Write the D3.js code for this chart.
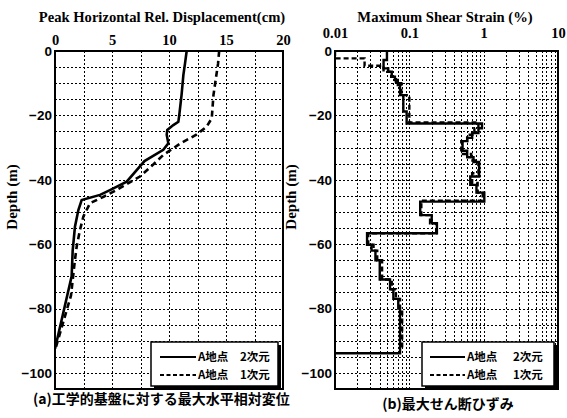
<!doctype HTML>
<html lang="ja">
<head>
<meta charset="utf-8">
<title>最大水平相対変位・最大せん断ひずみ</title>
<script src="https://d3js.org/d3.v7.min.js"></script>
<style type="text/css">
  body { margin: 0; background: #fff; }
  .tick text { fill: #000; }
  .grid line { shape-rendering: crispEdges; }
  .title { font-family: "Liberation Serif", serif; font-weight: bold; font-size: 14.6px; }
  .ylab { font-family: "Liberation Serif", serif; font-weight: bold; font-size: 15px; }
  .xtick text { font-family: "Liberation Serif", serif; font-weight: bold; font-size: 14.5px; }
  .ytick text { font-family: "Liberation Sans", sans-serif; font-weight: bold; font-size: 13.5px; }
  .cap { font-family: "Noto Sans CJK JP", sans-serif; font-weight: bold; font-size: 14px; }
  .leg { font-family: "Noto Sans CJK JP", sans-serif; font-weight: bold; font-size: 11.5px; }
</style>
</head>
<body>
<script type="text/javascript">

// ---- data ----
// (a) peak horizontal relative displacement (cm) vs depth (m)
var disp2D  = [11.55, 11.4, 11.26, 11.1, 10.9, 10.82, 10.38, 9.85, 9.8, 9.94, 9.5, 7.85, 6.29, 4.82, 3.95, 2.34, 2.05, 1.75, 1.55, 1.46, 0];
var depth2D = [0, -4, -7.5, -13.7, -19.9, -22, -23, -24.5, -26, -28.7, -30.7, -34.2, -40.6, -43.2, -44.7, -46.3, -49.4, -54.6, -62, -70, -92.5];

var disp1D  = [14.4, 14.3, 14.2, 13.9, 13.75, 13.3, 12.4, 11.0, 9.5, 8.4, 7.45, 5.4, 4.3, 3.07, 2.49, 2.19, 1.9, 1.75, 1.4, 0];
var depth1D = [0, -4, -6.4, -13.7, -20.9, -23.5, -26, -28.7, -32.3, -36, -39, -43.2, -45.2, -47.3, -51.4, -55.6, -60.8, -64.9, -76, -93];

// (b) maximum shear strain (%) per layer; bounds are layer tops/bottoms (m)
var strainBounds2D = [0, -2.8, -5.4, -6.4, -8.0, -9.0, -10.6, -13.7, -18.8, -22.5, -24, -25.5, -27, -28, -31, -33,
                      -34.5, -39, -41.6, -44, -46.8, -51, -53.5, -56.6, -60.2, -62, -65, -71, -74, -77, -80, -93.9];
var strain2D = [0.050, 0.045, 0.052, 0.058, 0.064, 0.070, 0.075, 0.083, 0.092, 0.95, 0.85, 0.70, 0.60, 0.52, 0.60,
                0.73, 0.87, 0.66, 0.80, 1.02, 0.14, 0.20, 0.235, 0.027, 0.031, 0.035, 0.040, 0.055, 0.061, 0.071, 0.075];

var strainBounds1D = [0, -2.3, -4.6, -6.5, -8, -10, -13.7, -22.2, -24, -26, -28, -32, -34, -38, -41, -44, -46.5,
                      -51, -53.5, -56.6, -60.2, -62, -65, -71, -74, -77, -80, -93];
var strain1D = [0.01, 0.025, 0.045, 0.057, 0.066, 0.078, 0.10, 0.85, 0.75, 0.60, 0.50, 0.68, 0.85, 0.70, 0.83, 0.97,
                0.145, 0.19, 0.23, 0.028, 0.033, 0.037, 0.043, 0.058, 0.066, 0.075, 0.08];

var dispTicks = [0, 5, 10, 15, 20];
var strainTicks = [0.01, 0.1, 1, 10];
var depthTicks = [0, -20, -40, -60, -80, -100];
var legendNames = ["A地点", "A地点"];
var legendDims = ["2次元", "1次元"];

// ---- layout ----
var W = 567, H = 418;
var plotTop = 51, plotBottom = 389;

var svg = d3.select("body").append("svg")
  .attr("width", W)
  .attr("height", H);

var y = d3.scaleLinear().domain([0, -105]).range([plotTop, plotBottom]);
var xDisp = d3.scaleLinear().domain([0, 20]).range([55, 283]);
var xStrain = d3.scaleLog().domain([0.01, 10]).range([335, 558]);

// build stepped profile from layers
function layerPoints(bounds, vals) {
  var pts = [];
  for (var i = 0; i < vals.length; i++) {
    pts.push([vals[i], bounds[i]]);
    pts.push([vals[i], bounds[i + 1]]);
  }
  return pts;
}

function drawFrame(x, gridX, name) {
  var g = svg.append("g");
  var x0 = x.range()[0], x1 = x.range()[1];

  g.append("clipPath").attr("id", "clip" + name)
    .append("rect").attr("x", x0).attr("y", plotTop).attr("width", x1 - x0).attr("height", plotBottom - plotTop);

  // dotted grid
  g.append("g").attr("class", "grid").selectAll("line")
    .data(gridX)
    .enter().append("line")
    .attr("x1", function(d) { return Math.round(x(d)) + 0.5; })
    .attr("x2", function(d) { return Math.round(x(d)) + 0.5; })
    .attr("y1", plotTop).attr("y2", plotBottom)
    .attr("stroke", "#000").attr("stroke-width", 1)
    .attr("stroke-dasharray", "2,2");

  g.append("g").attr("class", "grid").selectAll("line")
    .data(d3.range(-5, -105, -5))
    .enter().append("line")
    .attr("x1", x0).attr("x2", x1)
    .attr("y1", function(d) { return Math.round(y(d)) + 0.5; })
    .attr("y2", function(d) { return Math.round(y(d)) + 0.5; })
    .attr("stroke", "#000").attr("stroke-width", 1)
    .attr("stroke-dasharray", "2,2");

  return g;
}

function drawAxes(x, ticks, fmt, pad, titleText, titleX, ylabX) {
  var x0 = x.range()[0];

  svg.append("g")
    .attr("class", "xtick")
    .attr("transform", "translate(0," + plotTop + ")")
    .call(d3.axisTop(x).tickValues(ticks).tickFormat(fmt).tickSize(0).tickPadding(pad))
    .call(function(g) { g.select(".domain").remove(); });

  svg.append("g")
    .attr("class", "ytick")
    .attr("transform", "translate(" + x0 + ",0)")
    .call(d3.axisLeft(y).tickValues(depthTicks).tickSize(0).tickPadding(3))
    .call(function(g) { g.select(".domain").remove(); });

  svg.append("text")
    .attr("class", "title")
    .attr("x", titleX).attr("y", 22)
    .attr("text-anchor", "middle")
    .text(titleText);

  svg.append("text")
    .attr("class", "ylab")
    .attr("transform", "translate(" + ylabX + ",197) rotate(-90)")
    .attr("text-anchor", "middle")
    .text("Depth (m)");
}

function drawBorder(x) {
  var x0 = x.range()[0], x1 = x.range()[1];
  svg.append("rect")
    .attr("x", x0).attr("y", plotTop)
    .attr("width", x1 - x0).attr("height", plotBottom - plotTop)
    .attr("fill", "none").attr("stroke", "#000").attr("stroke-width", 2);
}

function drawLegend(lx, ly, lw, lh, sampleX, nameX, dimX) {
  var g = svg.append("g");
  g.append("rect")
    .attr("x", lx + 3).attr("y", ly + 3).attr("width", lw).attr("height", lh)
    .attr("fill", "#000");
  g.append("rect")
    .attr("x", lx).attr("y", ly).attr("width", lw).attr("height", lh)
    .attr("fill", "#fff").attr("stroke", "#000").attr("stroke-width", 1.5);

  legendNames.forEach(function(n, i) {
    var yy = ly + 15 + i * 18;
    g.append("line")
      .attr("x1", sampleX[0]).attr("x2", sampleX[1])
      .attr("y1", yy).attr("y2", yy)
      .attr("stroke", "#000").attr("stroke-width", 1.8)
      .attr("stroke-dasharray", i == 0 ? null : "4,2.5");
    g.append("text").attr("class", "leg")
      .attr("x", nameX).attr("y", yy + 4).text(n);
    g.append("text").attr("class", "leg")
      .attr("x", dimX).attr("y", yy + 4).text(legendDims[i]);
  });
}

// ---- (a) displacement ----
var gA = drawFrame(xDisp, d3.range(2.5, 20, 2.5), "A");

var lineA = d3.line()
  .x(function(d) { return xDisp(d[0]); })
  .y(function(d) { return y(d[1]); });

gA.append("path")
  .datum(d3.zip(disp1D, depth1D))
  .attr("clip-path", "url(#clipA)")
  .attr("fill", "none").attr("stroke", "#000").attr("stroke-width", 2.6)
  .attr("stroke-dasharray", "6,4")
  .attr("d", lineA);

gA.append("path")
  .datum(d3.zip(disp2D, depth2D))
  .attr("clip-path", "url(#clipA)")
  .attr("fill", "none").attr("stroke", "#000").attr("stroke-width", 2.6)
  .attr("d", lineA);

drawBorder(xDisp);
drawAxes(xDisp, dispTicks, d3.format("d"), 6, "Peak Horizontal Rel. Displacement(cm)", 162, 17);

// ---- (b) strain ----
var minor = [];
[0.01, 0.1, 1].forEach(function(p) {
  for (var k = 1; k <= 9; k++) { if (p * k > 0.0100001) minor.push(p * k); }
});
var gB = drawFrame(xStrain, minor, "B");

var lineB = d3.line()
  .x(function(d) { return xStrain(d[0]); })
  .y(function(d) { return y(d[1]); });

gB.append("path")
  .datum(layerPoints(strainBounds1D, strain1D))
  .attr("clip-path", "url(#clipB)")
  .attr("fill", "none").attr("stroke", "#000").attr("stroke-width", 2.4)
  .attr("stroke-dasharray", "5,3")
  .attr("d", lineB);

var pts2D = layerPoints(strainBounds2D, strain2D);
pts2D.push([0.01, strainBounds2D[strainBounds2D.length - 1]]);
gB.append("path")
  .datum(pts2D)
  .attr("clip-path", "url(#clipB)")
  .attr("fill", "none").attr("stroke", "#000").attr("stroke-width", 2.4)
  .attr("d", lineB);

drawBorder(xStrain);
drawAxes(xStrain, strainTicks, function(d) { return d3.format("~g")(d); }, 13, "Maximum Shear Strain (%)", 445, 296);

// ---- legends ----
drawLegend(151, 342, 127, 44, [160, 196], 198, 240);
drawLegend(422, 342, 132, 44, [430, 465], 467, 513);

// ---- captions ----
svg.append("text").attr("class", "cap")
  .attr("x", 33).attr("y", 404)
  .text("(a)工学的基盤に対する最大水平相対変位");
svg.append("text").attr("class", "cap")
  .attr("x", 448).attr("y", 409)
  .attr("text-anchor", "middle")
  .text("(b)最大せん断ひずみ");

</script>
</body>
</html>
